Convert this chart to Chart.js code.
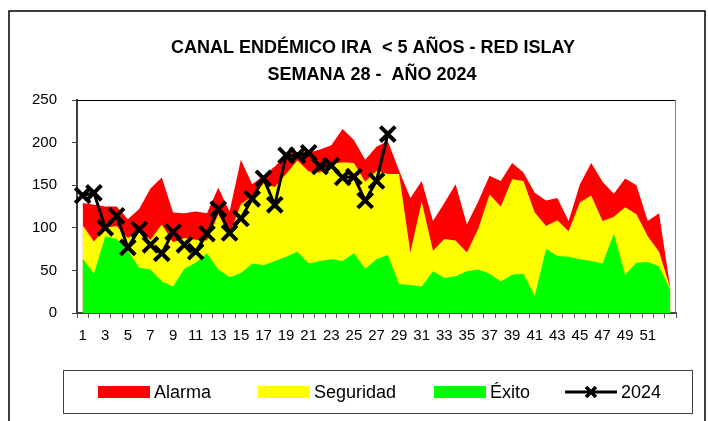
<!DOCTYPE html>
<html>
<head>
<meta charset="utf-8">
<script src="https://cdn.jsdelivr.net/npm/chart.js@4.4.1/dist/chart.umd.min.js"></script>
<style>
  html, body { margin: 0; padding: 0; background: #ffffff; }
  canvas { display: block; }
</style>
</head>
<body>
<canvas id="c" width="708" height="421"></canvas>
<script>
// ---- data ----
const weeks = [1,2,3,4,5,6,7,8,9,10,11,12,13,14,15,16,17,18,19,20,21,22,23,24,25,26,27,28,29,30,31,32,33,34,35,36,37,38,39,40,41,42,43,44,45,46,47,48,49,50,51,52,53];
const shownLabels = [1,3,5,7,9,11,13,15,17,19,21,23,25,27,29,31,33,35,37,39,41,43,45,47,49,51];
const yTicks = [0,50,100,150,200,250];

const alarma = [129,127,125,125,110,122,146,159,118,117,
                119,117,147,119,180,151,161,172,186,189,
                188,192,197,216,203,180,195,202,167,135,
                155,108,129,151,104,131,161,155,176,165,
                141,132,135,108,151,176,154,140,158,150,
                108,117,29];
const seguridad = [103,84,100,102,88,96,86,104,83,88,
                   86,85,116,92,128,137,152,148,163,179,
                   166,165,175,177,176,154,167,163,163,71,
                   131,73,87,85,71,99,139,125,157,155,
                   118,102,109,96,130,138,108,113,124,116,
                   90,72,29];
const exito = [64,46,90,87,73,53,51,37,31,52,
               59,70,51,42,47,58,56,61,66,72,
               58,61,63,61,70,52,63,68,34,33,
               31,49,41,43,49,51,46,37,45,46,
               20,75,67,66,63,61,58,93,45,59,
               60,55,27];
const y2024 = [138,141,100,114,77,98,80,70,95,80,
               72,93,122,94,111,134,158,127,185,185,
               188,172,173,159,160,132,155,210];

const titleLines = ['CANAL ENDÉMICO IRA  < 5 AÑOS - RED ISLAY', 'SEMANA 28 -  AÑO 2024'];
const legendItems = [
  {label: 'Alarma', color: '#FF0000', type: 'box'},
  {label: 'Seguridad', color: '#FFFF00', type: 'box'},
  {label: 'Éxito', color: '#00FF00', type: 'box'},
  {label: '2024', color: '#000000', type: 'line'}
];

const FONT = '"Liberation Sans", Arial, sans-serif';

const decor = {
  id: 'decor',
  beforeDraw(chart) {
    const ctx = chart.ctx;
    ctx.save();
    ctx.fillStyle = '#ffffff';
    ctx.fillRect(0, 0, chart.width, chart.height);
    ctx.restore();
  },
  afterDraw(chart) {
    const ctx = chart.ctx;
    const a = chart.chartArea;
    ctx.save();
    // outer frame
    ctx.strokeStyle = '#000000';
    ctx.lineWidth = 1.5;
    ctx.beginPath();
    ctx.moveTo(9, 421);
    ctx.lineTo(9, 11);
    ctx.lineTo(705, 11);
    ctx.lineTo(705, 421);
    ctx.stroke();
    // plot frame top and right
    ctx.lineWidth = 1;
    ctx.strokeStyle = '#000000';
    ctx.beginPath();
    ctx.moveTo(a.left, a.top + 0.5);
    ctx.lineTo(a.right, a.top + 0.5);
    ctx.stroke();
    ctx.strokeStyle = '#808080';
    ctx.beginPath();
    ctx.moveTo(a.right - 0.5, a.top);
    ctx.lineTo(a.right - 0.5, a.bottom);
    ctx.stroke();
    // title
    ctx.fillStyle = '#000000';
    ctx.font = 'bold 18px ' + FONT;
    ctx.textAlign = 'center';
    ctx.textBaseline = 'middle';
    ctx.fillText(titleLines[0], 373, 48);
    ctx.fillText(titleLines[1], 372, 75);
    // legend box
    ctx.strokeStyle = '#404040';
    ctx.lineWidth = 1;
    ctx.strokeRect(63.5, 370.5, 629, 43);
    const sx = [98, 258, 434, 565];
    const cy = 392;
    ctx.font = '18px ' + FONT;
    ctx.textAlign = 'left';
    legendItems.forEach((it, i) => {
      const x = sx[i];
      if (it.type === 'box') {
        ctx.fillStyle = it.color;
        ctx.fillRect(x, cy - 6, 52, 12);
      } else {
        ctx.strokeStyle = it.color;
        ctx.lineWidth = 3;
        ctx.beginPath();
        ctx.moveTo(x, cy);
        ctx.lineTo(x + 52, cy);
        ctx.stroke();
        ctx.lineWidth = 3.5;
        ctx.beginPath();
        ctx.moveTo(x + 21, cy - 5); ctx.lineTo(x + 31, cy + 5);
        ctx.moveTo(x + 31, cy - 5); ctx.lineTo(x + 21, cy + 5);
        ctx.stroke();
      }
      ctx.fillStyle = '#000000';
      ctx.fillText(it.label, x + 56, cy + 1);
    });
    ctx.restore();
  }
};

new Chart(document.getElementById('c'), {
  type: 'line',
  data: {
    labels: weeks,
    datasets: [
      {
        label: '2024', data: y2024, borderColor: '#000000', backgroundColor: '#000000',
        borderWidth: 3, pointStyle: 'crossRot', pointRadius: 10.5, pointBorderWidth: 4,
        pointBorderColor: '#000000', fill: false, tension: 0, order: 0
      },
      {
        label: 'Éxito', data: exito, borderWidth: 0, borderColor: 'rgba(0,0,0,0)',
        backgroundColor: '#00FF00', fill: 'origin', pointRadius: 0, tension: 0, order: 1
      },
      {
        label: 'Seguridad', data: seguridad, borderWidth: 0, borderColor: 'rgba(0,0,0,0)',
        backgroundColor: '#FFFF00', fill: 'origin', pointRadius: 0, tension: 0, order: 2
      },
      {
        label: 'Alarma', data: alarma, borderWidth: 0, borderColor: 'rgba(0,0,0,0)',
        backgroundColor: '#FF0000', fill: 'origin', pointRadius: 0, tension: 0, order: 3
      }
    ]
  },
  options: {
    responsive: false,
    animation: false,
    devicePixelRatio: 1,
    layout: { padding: { top: 100, right: 32, left: 0, bottom: 0 } },
    plugins: {
      legend: { display: false },
      title: { display: false },
      tooltip: { enabled: false },
      filler: { propagate: false }
    },
    scales: {
      x: {
        type: 'category',
        offset: true,
        grid: { offset: true, drawOnChartArea: false, drawTicks: true, tickLength: 5, color: '#595959' },
        border: { display: true, color: '#404040', width: 2 },
        ticks: {
          autoSkip: false, maxRotation: 0, minRotation: 0, padding: 9,
          color: '#000000', font: { family: FONT, size: 15 },
          callback: function (v, i) { const l = weeks[i]; return shownLabels.includes(l) ? String(l) : ''; }
        },
        afterFit: function (s) { s.height = 108; }
      },
      y: {
        min: 0, max: 250,
        grid: { drawOnChartArea: false, drawTicks: true, tickLength: 5, color: '#404040' },
        border: { display: true, color: '#404040', width: 2 },
        ticks: {
          stepSize: 50, padding: 15, color: '#000000', font: { family: FONT, size: 15 },
          callback: function (v) { return yTicks.includes(v) ? String(v) : ''; }
        },
        afterFit: function (s) { s.width = 77; }
      }
    }
  },
  plugins: [decor]
});
</script>
</body>
</html>
